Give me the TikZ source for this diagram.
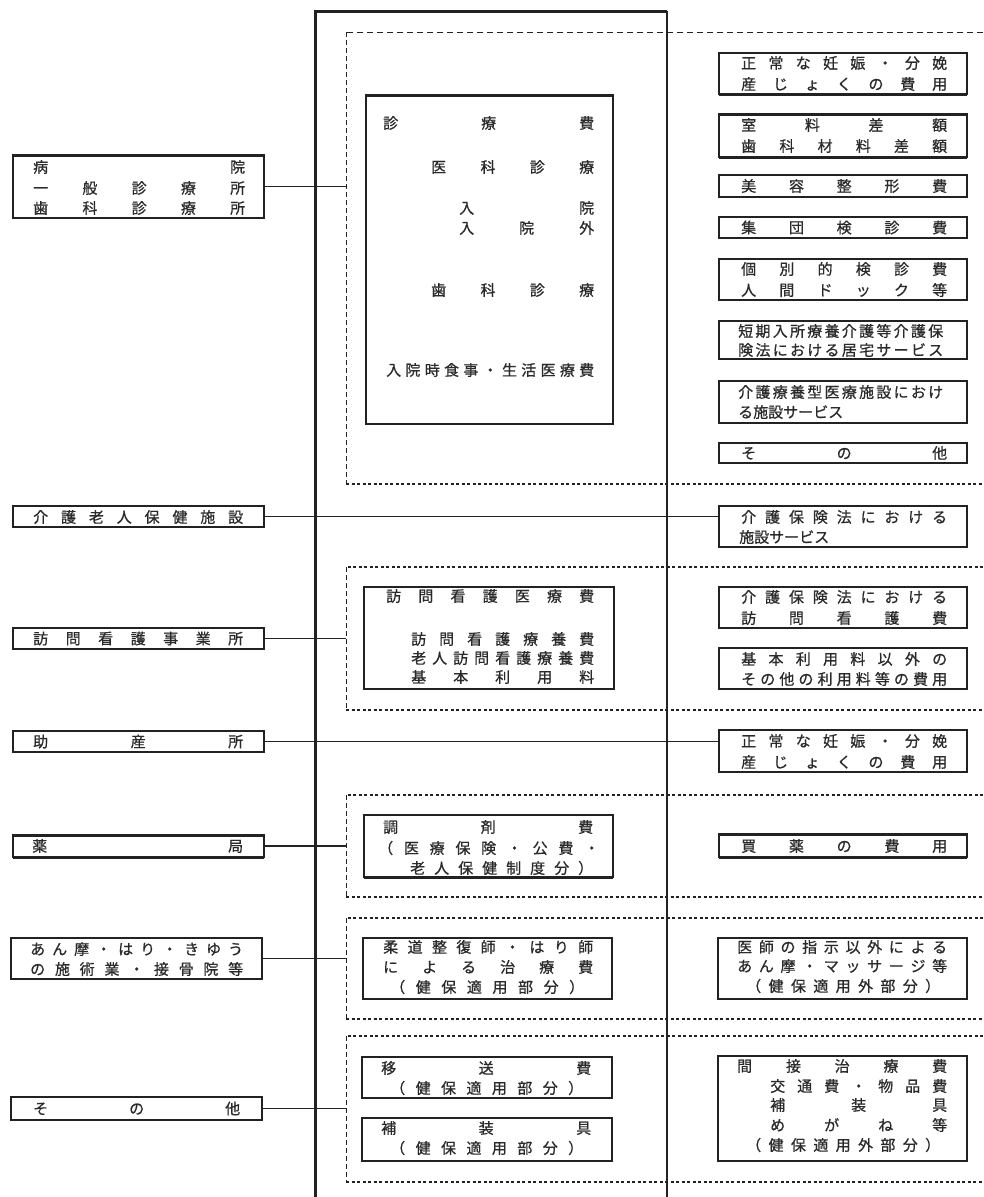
\documentclass[tikz,border=0pt]{standalone}
\usepackage{fontspec}
\setmainfont{Noto Sans CJK JP}[FakeBold=0.7]
\definecolor{ink}{HTML}{222222}
\definecolor{tink}{HTML}{2a2a2a}
\makeatletter
\def\spr@a#1#2\@nil{#1\ifx\relax#2\relax\else\hfill\spr@a#2\@nil\fi}
\newcommand\spr[3]{\makebox[\dimexpr #2pt-#1pt\relax][s]{\spr@a#3\@nil}}
\makeatother
\tikzset{
  box/.style={draw=ink, line width=1.6pt, inner sep=0pt, outer sep=0pt},
  txt/.style={inner sep=0pt, text=tink, font=\fontsize{15}{15}\selectfont},
  regh/.style={draw=ink, line width=1.8pt, dash pattern=on 3pt off 2.5pt},
  regtop/.style={draw=ink, line width=1pt, dash pattern=on 6pt off 4pt},
  regv/.style={draw=ink, line width=0.9pt, dash pattern=on 5pt off 3pt},
  conn/.style={draw=ink, line width=1.1pt},
  mainl/.style={draw=ink, line width=3pt},
  mainr/.style={draw=ink, line width=2pt},
  heavy/.style={draw=ink, line width=3pt}
}
\newcommand\bx[5]{\node[box,minimum width={#3-#1},minimum height={#4-#2}] (#5) at ({(#1+#3)/2},{(#2+#4)/2}) {};}
\newcommand\tx[5]{\node[txt,anchor=west] (#5) at (#1,#3) {\spr{#1}{#2}{#4}};}
\newcommand\tn[4]{\node[txt,anchor=west] (#4) at (#1,#2) {#3};}
\begin{document}
\begin{tikzpicture}[x=1pt,y=-1pt]
\fill[white] (0,0) rectangle (983,1197);
\useasboundingbox (0,0) rectangle (983,1197);

% main frame
\draw[mainl] (315,1197) -- (315,11) -- (667,11);
\draw[mainr] (667,11) -- (667,1197);

% dashed regions
\draw[regtop] (983,32) -- (346,32);
\draw[regv] (346,32) -- (346,484);
\draw[regh] (346,484) -- (983,484);
\foreach \t/\b in {567/710, 795/897, 918/1019, 1036/1182} {
  \draw[regh] (983,\t) -- (346,\t);
  \draw[regv] (346,\t) -- (346,\b);
  \draw[regh] (346,\b) -- (983,\b);
}
\coordinate (regL) at (346,0);

% left boxes
\bx{13}{155}{264}{218}{L1}
\bx{13}{506}{264}{527}{L2}
\bx{13}{628}{264}{649}{L3}
\bx{13}{731}{264}{752}{L4}
\bx{13}{835}{264}{857}{L5}
\bx{11}{938}{262}{979}{L6}
\bx{11}{1097}{262}{1120}{L7}

% middle boxes
\bx{366}{95}{613}{424}{M1}
\bx{364}{587}{614}{689}{M2}
\bx{364}{815}{613}{877}{M3}
\bx{363}{938}{612}{999}{M4}
\bx{362}{1057}{612}{1098}{M5}
\bx{362}{1118}{612}{1161}{M6}

% right boxes
\bx{719}{53}{967}{94}{R1}
\bx{719}{114}{967}{157}{R2}
\bx{719}{175}{967}{197}{R3}
\bx{719}{217}{967}{238}{R4}
\bx{719}{259}{967}{300}{R5}
\bx{719}{321}{967}{359}{R6}
\bx{719}{381}{967}{423}{R7}
\bx{719}{443}{967}{463}{R8}
\bx{719}{506}{967}{547}{R9}
\bx{719}{587}{967}{628}{R10}
\bx{719}{648}{967}{689}{R11}
\bx{719}{730}{967}{772}{R12}
\bx{719}{834}{967}{857}{R13}
\bx{718}{938}{967}{999}{R14}
\bx{718}{1056}{967}{1161}{R15}

% heavier edges
\draw[heavy] (L1.north west) -- (L1.north east);
\draw[heavy] (M1.north west) -- (M1.north east);
\draw[heavy] (L5.north west) -- (L5.north east);
\draw[heavy] (L5.south west) -- (L5.south east);
\draw[heavy] (R13.north west) -- (R13.north east);
\draw[heavy] (R13.south west) -- (R13.south east);
\draw[heavy] (M3.south west) -- (M3.south east);
\draw[heavy] (R1.south west) -- (R1.south east);
\draw[heavy] (R2.north west) -- (R2.north east);
\draw[heavy] (R2.south west) -- (R2.south east);

% connectors
\draw[conn] (L1.east) -- (L1.east -| regL);
\draw[conn] (L2.east) -- (L2.east -| R9.west);
\draw[conn] (L3.east) -- (L3.east -| regL);
\draw[conn] (L4.east) -- (L4.east -| R12.west);
\draw[conn] (L5.east) -- (L5.east -| regL);
\draw[conn] (L6.east) -- (L6.east -| regL);
\draw[conn] (L7.east) -- (L7.east -| regL);

% left texts
\tx{33}{245}{167}{病院}{a1}
\tx{33}{245}{188}{一般診療所}{a2}
\tx{33}{245}{208}{歯科診療所}{a3}
\tx{33}{243}{517}{介護老人保健施設}{a4}
\tx{33}{243}{638.5}{訪問看護事業所}{a5}
\tx{33}{243}{741.5}{助産所}{a6}
\tx{32}{243}{846}{薬局}{a7}
\tx{30}{243}{949}{あん摩・はり・きゆう}{a8}
\tx{30}{243}{969}{の施術業・接骨院等}{a9}
\tx{33}{240}{1108.5}{その他}{a10}

% middle texts
\tx{383}{594}{123}{診療費}{b1}
\tx{431}{594}{167}{医科診療}{b2}
\tx{459}{594}{208}{入院}{b3}
\tx{459}{594}{228}{入院外}{b4}
\tx{431}{594}{290}{歯科診療}{b5}
\tx{386}{594}{370}{入院時食事・生活医療費}{b6}
\tx{386}{594}{596}{訪問看護医療費}{b7}
\tx{411}{594}{639}{訪問看護療養費}{b8}
\tx{411}{594}{658}{老人訪問看護療養費}{b9}
\tx{411}{594}{677}{基本利用料}{b10}
\tx{383}{593}{827}{調剤費}{b11}
\tx{378}{599}{848}{（医療保険・公費・}{b12}
\tx{410}{593}{868}{老人保健制度分）}{b13}
\tx{383}{593}{947}{柔道整復師・はり師}{b14}
\tx{383}{593}{967}{による治療費}{b15}
\tx{390}{584}{987}{（健保適用部分）}{b16}
\tx{381}{591}{1068}{移送費}{b17}
\tx{390}{583}{1088}{（健保適用部分）}{b18}
\tx{381}{591}{1128}{補装具}{b19}
\tx{390}{583}{1148}{（健保適用部分）}{b20}

% right texts
\tx{741}{947}{63}{正常な妊娠・分娩}{c1}
\tx{741}{947}{84}{産じょくの費用}{c2}
\tx{741}{947}{125}{室料差額}{c3}
\tx{741}{947}{146}{歯科材料差額}{c4}
\tx{741}{947}{186}{美容整形費}{c5}
\tx{741}{947}{227.5}{集団検診費}{c6}
\tx{741}{947}{269}{個別的検診費}{c7}
\tx{741}{947}{290}{人間ドック等}{c8}
\tx{738}{943}{331}{短期入所療養介護等介護保}{c9}
\tx{738}{943}{350}{険法における居宅サービス}{c10}
\tx{738}{943}{392}{介護療養型医療施設におけ}{c11}
\tn{738}{412}{る施設サービス}{c12}
\tx{741}{947}{453}{その他}{c13}
\tx{741}{947}{517}{介護保険法における}{c14}
\tn{739}{537}{施設サービス}{c15}
\tx{741}{947}{597}{介護保険法における}{c16}
\tx{741}{947}{618}{訪問看護費}{c17}
\tx{741}{947}{659}{基本利用料以外の}{c18}
\tx{741}{947}{679}{その他の利用料等の費用}{c19}
\tx{741}{947}{741}{正常な妊娠・分娩}{c20}
\tx{741}{947}{762}{産じょくの費用}{c21}
\tx{741}{947}{846}{買薬の費用}{c22}
\tx{737}{947}{947}{医師の指示以外による}{c23}
\tx{737}{947}{966}{あん摩・マッサージ等}{c24}
\tx{746}{940}{986}{（健保適用外部分）}{c25}
\tx{737}{947}{1066}{間接治療費}{c26}
\tx{770}{947}{1086}{交通費・物品費}{c27}
\tx{770}{947}{1105}{補装具}{c28}
\tx{770}{947}{1125}{めがね等}{c29}
\tx{746}{940}{1145}{（健保適用外部分）}{c30}
\end{tikzpicture}
\end{document}
